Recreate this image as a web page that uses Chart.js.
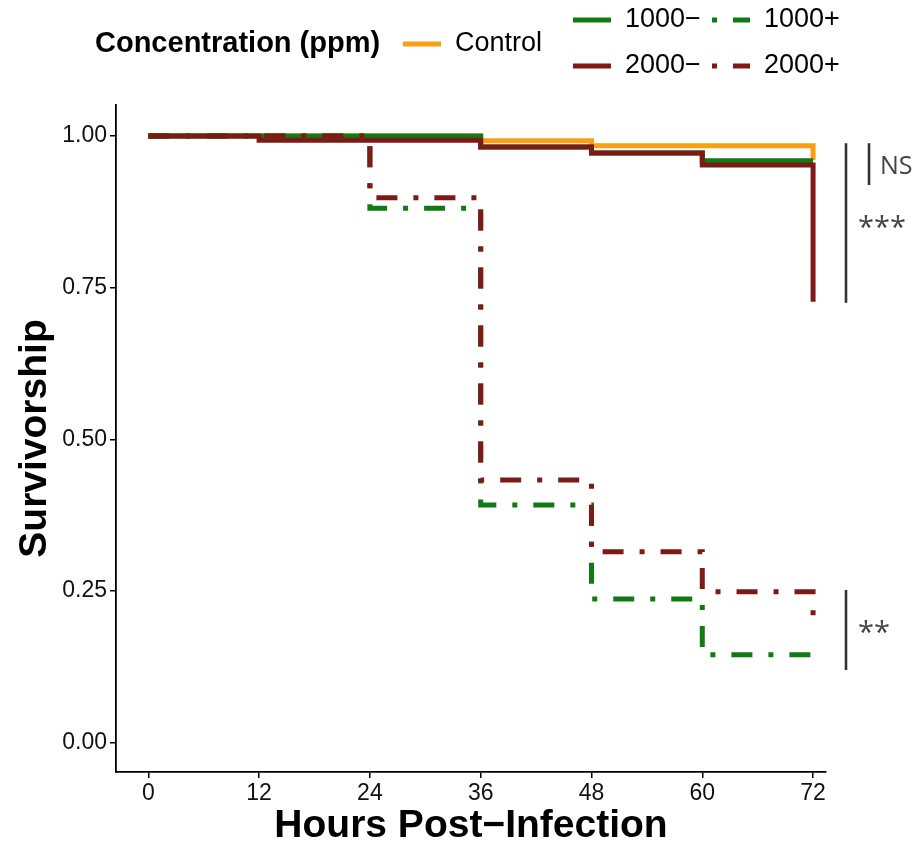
<!DOCTYPE html>
<html>
<head>
<meta charset="utf-8">
<script src="https://cdn.jsdelivr.net/npm/chart.js@4.4.1/dist/chart.umd.min.js"></script>
<style>
  html, body { margin: 0; padding: 0; background: #fff; }
  #wrap { width: 916px; height: 841px; }
</style>
</head>
<body>
<div id="wrap"><canvas id="survChart" width="916" height="841"></canvas></div>
<script>
// Kaplan-Meier style survival steps
const hours = [0, 12, 24, 36, 48, 60, 72];
const control = [1, 1, 1, 0.992, 0.984, 0.984, 0.96];
const c1000minus = [1, 1, 1, 0.982, 0.972, 0.959, 0.959];
const c2000minus = [1, 0.993, 0.993, 0.982, 0.972, 0.952, 0.727];
const c1000plus = [1, 1, 0.881, 0.392, 0.237, 0.145, 0.124];
const c2000plus = [1, 1, 0.898, 0.433, 0.315, 0.249, 0.206];

const xTicks = [0, 12, 24, 36, 48, 60, 72];
const yTicks = [0, 0.25, 0.5, 0.75, 1];

// significance brackets: [from, to, label, label baseline]
const brackets = [
  { from: 0.988, to: 0.919, label: "NS", labelY: 0.937, inner: true },
  { from: 0.988, to: 0.725, label: "***", labelY: 0.833, inner: false },
  { from: 0.252, to: 0.12, label: "**", labelY: 0.166, inner: false }
];

const ORANGE = "#FA9E14";
const GREEN = "#127A12";
const RED = "#7D1A15";
const DASHDOT = [21, 16, 5, 16];

function pts(arr) {
  return hours.map((h, i) => ({ x: h, y: arr[i] }));
}

function lineSet(label, arr, color, dashed) {
  return {
    label,
    data: pts(arr),
    borderColor: color,
    backgroundColor: color,
    borderWidth: 5,
    borderDash: dashed ? DASHDOT : [],
    borderCapStyle: "butt",
    borderJoinStyle: "miter",
    stepped: "before",
    pointRadius: 0,
    fill: false
  };
}

// index 0 ends up on top
const datasets = [
  lineSet("2000+", c2000plus, RED, true),
  lineSet("1000+", c1000plus, GREEN, true),
  lineSet("2000−", c2000minus, RED, false),
  lineSet("1000−", c1000minus, GREEN, false),
  lineSet("Control", control, ORANGE, false)
];

/* =========================
   LEGEND (ggplot-like layout)
========================= */
const legendPlugin = {
  id: "ggLegend",
  afterDraw(chart) {
    const ctx = chart.ctx;
    const byLabel = {};
    chart.data.datasets.forEach(d => byLabel[d.label] = d);

    ctx.save();
    ctx.fillStyle = "#000";
    ctx.textBaseline = "middle";
    ctx.font = "bold 29px 'Liberation Sans', Arial, sans-serif";
    ctx.fillText("Concentration (ppm)", 95, 44);

    const items = [
      { label: "Control", x: 403, y: 44 },
      { label: "1000−", x: 573, y: 20 },
      { label: "1000+", x: 712, y: 20 },
      { label: "2000−", x: 573, y: 66 },
      { label: "2000+", x: 712, y: 66 }
    ];
    items.forEach(it => {
      const d = byLabel[it.label];
      ctx.beginPath();
      ctx.strokeStyle = d.borderColor;
      ctx.lineWidth = 5;
      ctx.lineCap = "butt";
      ctx.setLineDash(d.borderDash);
      ctx.lineDashOffset = d.borderDash.length ? 37 : 0;
      ctx.moveTo(it.x, it.y);
      ctx.lineTo(it.x + 38, it.y);
      ctx.stroke();
      ctx.setLineDash([]);
      ctx.fillStyle = "#000";
      ctx.font = "27px 'Liberation Sans', Arial, sans-serif";
      ctx.fillText(it.label, it.x + 52, it.y);
    });
    ctx.restore();
  }
};

/* =========================
   SIGNIFICANCE BRACKETS
========================= */
const bracketPlugin = {
  id: "sigBrackets",
  afterDraw(chart) {
    const ctx = chart.ctx;
    const y = chart.scales.y;
    const right = chart.chartArea.right;
    ctx.save();
    ctx.strokeStyle = "#333";
    ctx.fillStyle = "#444";
    ctx.lineWidth = 2.6;
    brackets.forEach(b => {
      const lx = right + (b.inner ? 43 : 20);
      ctx.beginPath();
      ctx.moveTo(lx, y.getPixelForValue(b.from));
      ctx.lineTo(lx, y.getPixelForValue(b.to));
      ctx.stroke();
      ctx.font = b.label === "NS" ? "25px 'Open Sans', sans-serif" : "29px 'Open Sans', sans-serif";
      ctx.textBaseline = "alphabetic";
      ctx.fillText(b.label, right + (b.inner ? 54 : 32), y.getPixelForValue(b.labelY));
    });
    ctx.restore();
  }
};

new Chart(document.getElementById("survChart"), {
  type: "line",
  data: { datasets },
  options: {
    responsive: false,
    animation: false,
    layout: { padding: { top: 105, right: 90, left: 0, bottom: 0 } },
    plugins: {
      legend: { display: false },
      tooltip: { enabled: false }
    },
    scales: {
      x: {
        type: "linear",
        min: -3.5,
        max: 73.4,
        afterBuildTicks: s => { s.ticks = xTicks.map(v => ({ value: v })); },
        afterFit: s => { s.height = 69; },
        ticks: {
          color: "#111",
          font: { family: "'Liberation Sans', Arial, sans-serif", size: 23 },
          padding: 2
        },
        grid: { drawOnChartArea: false, drawTicks: true, tickLength: 6, color: "#000", lineWidth: 1.5 },
        border: { display: true, color: "#000", width: 1.8 },
        title: {
          display: true,
          text: "Hours Post−Infection",
          color: "#000",
          font: { family: "'Liberation Sans', Arial, sans-serif", size: 39, weight: "bold", lineHeight: 1 },
          padding: { top: 0, bottom: -5 }
        }
      },
      y: {
        type: "linear",
        min: -0.048,
        max: 1.051,
        afterBuildTicks: s => { s.ticks = yTicks.map(v => ({ value: v })); },
        afterFit: s => { s.width = 116; },
        ticks: {
          color: "#111",
          font: { family: "'Liberation Sans', Arial, sans-serif", size: 23 },
          padding: 3,
          callback: v => Number(v).toFixed(2)
        },
        grid: { drawOnChartArea: false, drawTicks: true, tickLength: 6, color: "#000", lineWidth: 1.5 },
        border: { display: true, color: "#000", width: 1.8 },
        title: {
          display: true,
          text: "Survivorship",
          color: "#000",
          font: { family: "'Liberation Sans', Arial, sans-serif", size: 39, weight: "bold", lineHeight: 1 },
          padding: { top: 16, bottom: 0 }
        }
      }
    }
  },
  plugins: [legendPlugin, bracketPlugin]
});
</script>
</body>
</html>
